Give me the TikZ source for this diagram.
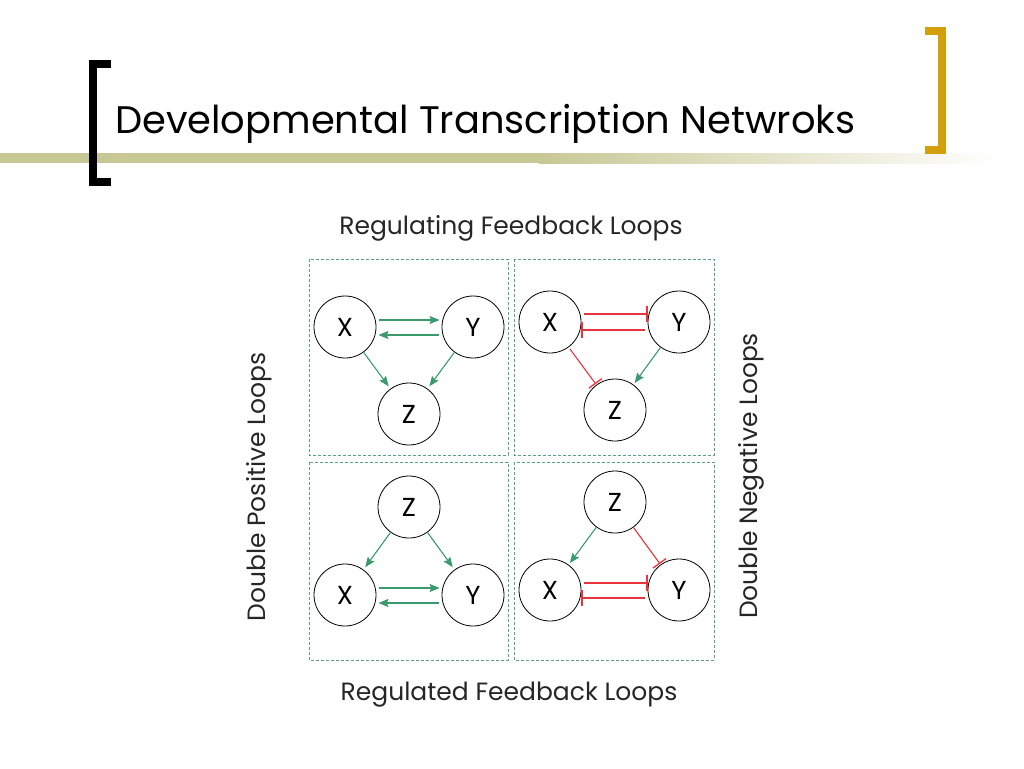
\documentclass[tikz,border=0pt]{standalone}
\usepackage{fontspec}
\setmainfont{Poppins}
\usetikzlibrary{arrows.meta}
\definecolor{olivebar}{HTML}{C8C896}
\definecolor{goldb}{HTML}{D39F0C}
\definecolor{grn}{HTML}{3A9A6C}
\definecolor{boxc}{HTML}{5A9F88}
\definecolor{redc}{HTML}{E8343C}
\begin{document}
\begin{tikzpicture}[x=1pt,y=-1pt,
  gene/.style={circle,draw,line width=0.8pt,minimum size=62pt,inner sep=0pt,font=\fontsize{26}{26}\selectfont},
  act/.style={draw=grn,line width=1.1pt,-{Stealth[length=10pt,width=8pt,inset=1.5pt]}},
  inh/.style={draw=redc,line width=1.1pt,-{Bar[width=16pt,line width=1.3pt]}},
  loopbox/.style={draw=boxc,dashed,line width=0.7pt,dash pattern=on 3pt off 2pt},
  lbl/.style={font=\fontsize{25}{25}\selectfont,text=black!85}]
\useasboundingbox (0,0) rectangle (1024,768);
% header
\fill[olivebar] (0,153) rectangle (540,163);
\shade[left color=olivebar,right color=white] (539,153) rectangle (1000,163);
\fill[black] (89,60) rectangle (97,186);
\fill[black] (89,60) rectangle (111,68);
\fill[black] (89,178) rectangle (111,186);
\fill[goldb] (938,27) rectangle (946,154);
\fill[goldb] (925,27) rectangle (946,35);
\fill[goldb] (925,146) rectangle (946,154);
\node[anchor=base west,inner sep=0pt,font=\fontsize{38.4}{38.4}\selectfont] (title) at (115,133) {Developmental Transcription Netwroks};
% boxes
\draw[loopbox] (309,259) rectangle (508,455);
\draw[loopbox] (514,259) rectangle (714,455);
\draw[loopbox] (309,462) rectangle (508,660);
\draw[loopbox] (514,462) rectangle (714,660);
% labels
\node[lbl] (top) at (511,228) {Regulating Feedback Loops};
\node[lbl] (bot) at (509,695) {Regulated Feedback Loops};
\node[lbl,rotate=90] (left) at (259,487) {Double Positive Loops};
\node[lbl,rotate=90] (right) at (751,476) {Double Negative Loops};
% top-left
\node[gene] (x1) at (345,327) {X};
\node[gene] (y1) at (473,327) {Y};
\node[gene] (z1) at (409,414) {Z};
\draw[act,shorten <=3pt,shorten >=2pt] ([yshift=7pt]x1.east) -- ([yshift=7pt]y1.west);
\draw[act,shorten <=3pt,shorten >=2pt] ([yshift=-8pt]y1.west) -- ([yshift=-8pt]x1.east);
\draw[act,shorten >=3pt] (x1) -- (z1);
\draw[act,shorten >=3pt] (y1) -- (z1);
% top-right
\node[gene] (x2) at (550,322) {X};
\node[gene] (y2) at (679,322) {Y};
\node[gene] (z2) at (615,410) {Z};
\draw[inh,shorten <=3pt] ([yshift=8pt]x2.east) -- ([yshift=8pt]y2.west);
\draw[inh,shorten <=3pt] ([yshift=-8pt]y2.west) -- ([yshift=-8pt]x2.east);
\draw[inh,shorten <=2pt,shorten >=1pt] (x2) -- (z2);
\draw[act,shorten >=2pt] (y2) -- (z2);
% bottom-left
\node[gene] (z3) at (409,507) {Z};
\node[gene] (x3) at (345,595) {X};
\node[gene] (y3) at (473,595) {Y};
\draw[act,shorten >=3pt] (z3) -- (x3);
\draw[act,shorten >=3pt] (z3) -- (y3);
\draw[act,shorten <=3pt,shorten >=2pt] ([yshift=7pt]x3.east) -- ([yshift=7pt]y3.west);
\draw[act,shorten <=3pt,shorten >=2pt] ([yshift=-8pt]y3.west) -- ([yshift=-8pt]x3.east);
% bottom-right
\node[gene] (z4) at (615,502) {Z};
\node[gene] (x4) at (550,590) {X};
\node[gene] (y4) at (679,590) {Y};
\draw[act,shorten >=2pt] (z4) -- (x4);
\draw[inh,shorten >=1pt] (z4) -- (y4);
\draw[inh,shorten <=3pt] ([yshift=7pt]x4.east) -- ([yshift=7pt]y4.west);
\draw[inh,shorten <=3pt] ([yshift=-8pt]y4.west) -- ([yshift=-8pt]x4.east);
\end{tikzpicture}
\end{document}
